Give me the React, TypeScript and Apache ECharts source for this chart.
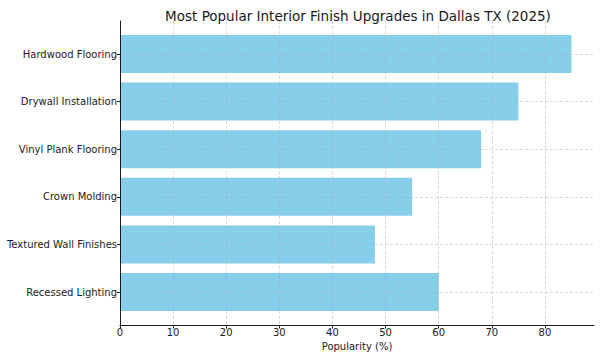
import React, { useEffect, useRef } from "react";
import * as echarts from "echarts";

const categories = [
  "Hardwood Flooring",
  "Drywall Installation",
  "Vinyl Plank Flooring",
  "Crown Molding",
  "Textured Wall Finishes",
  "Recessed Lighting",
];
const popularity = [85, 75, 68, 55, 48, 60];
const titleText = "Most Popular Interior Finish Upgrades in Dallas TX (2025)";
const xLabelText = "Popularity (%)";
const xMax = 89.25;
const xInterval = 10;

const FONT = "DejaVu Sans";
const INK = "#1a1a1a";
const GRID_LINE = {
  color: "rgba(170,170,170,0.55)",
  width: 0.8,
  type: [3, 2] as number[],
};

export default function App() {
  const ref = useRef<HTMLDivElement>(null);

  useEffect(() => {
    if (!ref.current) return;
    const chart = echarts.init(ref.current, null, { renderer: "svg" });
    chart.setOption({
      animation: false,
      backgroundColor: "#ffffff",
      textStyle: { fontFamily: FONT },
      title: {
        text: titleText,
        left: 353,
        textAlign: "center",
        top: 4,
        textStyle: {
          fontFamily: FONT,
          fontSize: 13.5,
          fontWeight: "normal",
          color: INK,
        },
      },
      grid: [
        { left: 120, right: 6, top: 21, bottom: 32, containLabel: false },
        { left: 120, right: 6, top: 54, bottom: 65, containLabel: false },
      ],
      xAxis: [
        {
          gridIndex: 0,
          type: "value",
          min: 0,
          max: xMax,
          interval: xInterval,
          z: 3,
          axisLine: { show: true, lineStyle: { color: INK, width: 1 } },
          axisTick: { show: true, length: 3.5, lineStyle: { color: INK } },
          axisLabel: {
            show: true,
            fontFamily: FONT,
            fontSize: 10,
            color: INK,
            margin: 2,
            showMaxLabel: false,
            hideOverlap: false,
            formatter: (v: number) =>
              Math.abs(v % xInterval) < 1e-9 ? String(v) : "",
          },
          splitLine: { show: true, showMaxLine: false, lineStyle: GRID_LINE },
          name: xLabelText,
          nameLocation: "middle",
          nameGap: 15,
          nameTextStyle: { fontFamily: FONT, fontSize: 10, color: INK },
        },
        {
          gridIndex: 1,
          type: "value",
          min: 0,
          max: xMax,
          show: false,
        },
      ],
      yAxis: [
        {
          gridIndex: 0,
          type: "value",
          min: 0,
          max: 1,
          z: 3,
          axisLine: { show: true, lineStyle: { color: INK, width: 1 } },
          axisTick: { show: false },
          axisLabel: { show: false },
          splitLine: { show: false },
        },
        {
          gridIndex: 1,
          type: "category",
          data: categories,
          inverse: true,
          boundaryGap: false,
          z: 3,
          axisLine: { show: false },
          axisTick: { show: true, length: 3, lineStyle: { color: INK } },
          axisLabel: {
            fontFamily: FONT,
            fontSize: 10,
            color: INK,
            margin: 3,
          },
          splitLine: { show: true, lineStyle: GRID_LINE },
        },
      ],
      series: [
        {
          type: "bar",
          xAxisIndex: 1,
          yAxisIndex: 1,
          data: popularity,
          barWidth: 38,
          itemStyle: { color: "#87CEEB" },
          z: 1,
        },
      ],
    });
    return () => chart.dispose();
  }, []);

  return (
    <div
      ref={ref}
      style={{ position: "fixed", left: 0, top: 0, width: 600, height: 357 }}
    />
  );
}
